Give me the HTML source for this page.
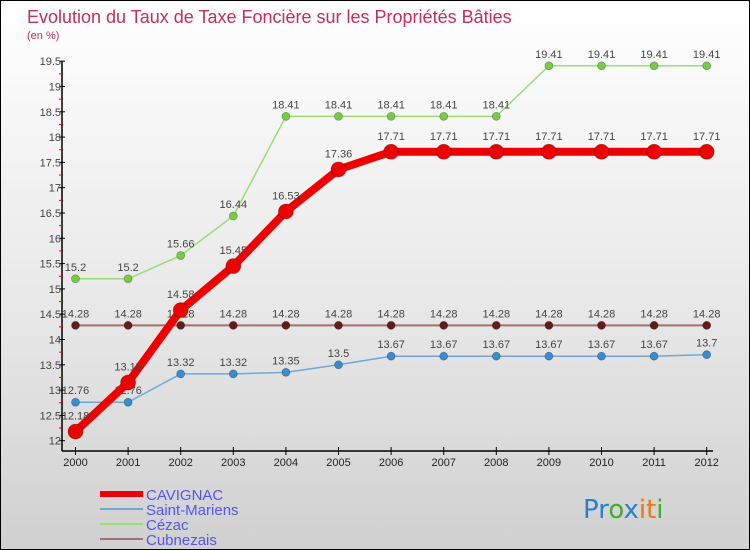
<!DOCTYPE html>
<html><head><meta charset="utf-8"><style>
html,body{margin:0;padding:0;}
body{width:750px;height:550px;overflow:hidden;font-family:"Liberation Sans",sans-serif;}
#wrap{position:relative;width:748px;height:548px;border:1px solid #000;background:linear-gradient(#fff 0%,#e6e6e6 60%,#d0d0d0 100%);}
</style></head><body>
<div id="wrap">
<svg id="chart" width="748" height="548" style="position:absolute;left:0;top:0"></svg>
</div>
<script>
const years=["2000","2001","2002","2003","2004","2005","2006","2007","2008","2009","2010","2011","2012"];
const cavignac=[12.18,13.15,14.58,15.45,16.53,17.36,17.71,17.71,17.71,17.71,17.71,17.71,17.71];
const saintMariens=[12.76,12.76,13.32,13.32,13.35,13.5,13.67,13.67,13.67,13.67,13.67,13.67,13.7];
const cezac=[15.2,15.2,15.66,16.44,18.41,18.41,18.41,18.41,18.41,19.41,19.41,19.41,19.41];
const cubnezais=[14.28,14.28,14.28,14.28,14.28,14.28,14.28,14.28,14.28,14.28,14.28,14.28,14.28];
const yTicks=["12","12.5","13","13.5","14","14.5","15","15.5","16","16.5","17","17.5","18","18.5","19","19.5"];
const seriesNames=["CAVIGNAC","Saint-Mariens","Cézac","Cubnezais"];

const NS="http://www.w3.org/2000/svg";
const svg=document.getElementById('chart');
const X=i=>74.5+i*52.6;
const Y=v=>439.7-(v-12)*50.6;
function el(t,a,p){const e=document.createElementNS(NS,t);for(const k in a)e.setAttribute(k,a[k]);(p||svg).appendChild(e);return e;}
function txt(x,y,s,size,fill,anchor){const e=el('text',{x:x,y:y,'font-size':size,fill:fill,'text-anchor':anchor||'start'});e.textContent=s;return e;}

let t=txt(26,22,"Evolution du Taux de Taxe Foncière sur les Propriétés Bâties",18,"#c0305a");


t=txt(26,38,"(en %)",11,"#c0305a");



// axes
let a=el('line',{x1:61,y1:60,x2:61,y2:450,stroke:'#000','stroke-width':1.5});


a=el('line',{x1:61,y1:450,x2:712,y2:450,stroke:'#000','stroke-width':1.5});


yTicks.forEach(s=>{const v=parseFloat(s);const y=Y(v);
 el('line',{x1:58,y1:y,x2:64,y2:y,stroke:'#000'});
 if(v<19.5) el('line',{x1:58,y1:Y(v+0.25),x2:62,y2:Y(v+0.25),stroke:'#e00'});
 const l=txt(60,y+4,s,11,'#444','end');
 
 
});
years.forEach((s,i)=>{el('line',{x1:X(i),y1:446,x2:X(i),y2:454,stroke:'#000'});
 const l=txt(X(i),465,s,11,'#222','middle');
 
 
});

function series(data,name,color,lw,dotFill,r,labelDy){
 const g=el('g',{});
 
 
 el('polyline',{points:data.map((v,i)=>X(i)+','+Y(v)).join(' '),fill:'none',stroke:color,'stroke-width':lw,'stroke-linejoin':'round'},g);
 data.forEach((v,i)=>{
  const c=el('circle',{cx:X(i),cy:Y(v),r:r,fill:dotFill,stroke:'rgba(0,0,0,0.3)','stroke-width':0.8},g);
  
  
  const l=txt(X(i),Y(v)-labelDy,String(v),11,'#444','middle');
  
  
  g.appendChild(l);
 });
}
series(cezac,'cezac','#99dd77',1.5,'#77cc44',4,8);
series(cubnezais,'cubnezais','#a07070',2,'#661a1a',4,8);
series(saintMariens,'saint-mariens','#6fa8d8',1.5,'#3a8cd0',4,8);
series(cavignac,'cavignac','#ee0000',8,'#ee0000',7.5,12);

// legend
const colors=['#ee0000','#6fa8d8','#99dd77','#a07070'];
const widths=[6,2,2,2];
seriesNames.forEach((n,i)=>{
 const y=493+i*15;
 const g=el('g',{});
 
 
 el('line',{x1:99,y1:y,x2:142,y2:y,stroke:colors[i],'stroke-width':widths[i]},g);
 const l=txt(145,y+6,n,15,'#5555ee');
 g.appendChild(l);
});
// logo
const lg=el('text',{x:582,y:517,'font-size':26,'font-family':'"DejaVu Sans",sans-serif'});


[['P','#2a80cc'],['r','#2a80cc'],['o','#44aa33'],['x','#2a80cc'],['i','#ee7711'],['t','#ee7711'],['i','#44aa33']].forEach(([c,f])=>{const s=el('tspan',{fill:f},lg);s.textContent=c;});
</script>
</body></html>
